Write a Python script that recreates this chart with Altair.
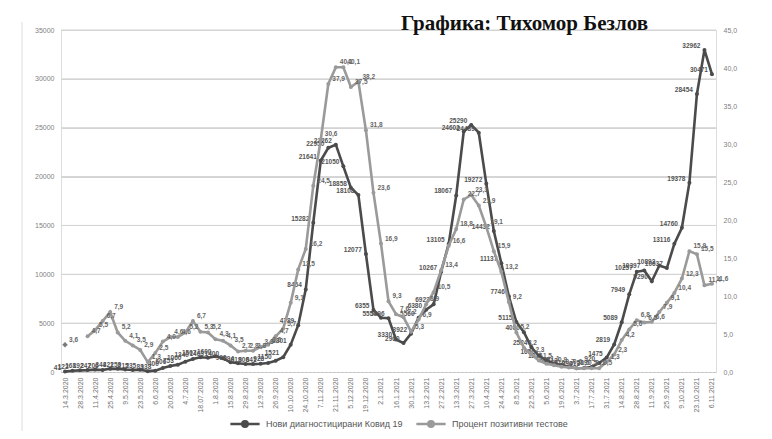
import altair as alt
import pandas as pd

# ---------------- data ----------------
dates = [
    "14.3.2020", "21.3.2020", "28.3.2020", "4.4.2020", "11.4.2020", "18.4.2020", "25.4.2020",
    "2.5.2020", "9.5.2020", "16.5.2020", "23.5.2020", "30.5.2020", "6.6.2020", "13.6.2020",
    "20.6.2020", "27.6.2020", "4.7.2020", "11.7.2020", "18.07.2020", "25.7.2020", "1.8.2020",
    "8.8.2020", "15.8.2020", "22.8.2020", "29.8.2020", "5.9.2020", "12.9.2020", "19.9.2020",
    "26.9.2020", "3.10.2020", "10.10.2020", "17.10.2020", "24.10.2020", "31.10.2020", "7.11.2020",
    "14.11.2020", "21.11.2020", "28.11.2020", "5.12.2020", "12.12.2020", "19.12.2020", "26.12.2020",
    "2.1.2021", "9.1.2021", "16.1.2021", "23.1.2021", "30.1.2021", "6.2.2021", "13.2.2021",
    "20.2.2021", "27.2.2021", "6.3.2021", "13.3.2021", "20.3.2021", "27.3.2021", "3.4.2021",
    "10.4.2021", "17.4.2021", "24.4.2021", "1.5.2021", "8.5.2021", "15.5.2021", "22.5.2021",
    "29.5.2021", "5.6.2021", "12.6.2021", "19.6.2021", "26.6.2021", "3.7.2021", "10.7.2021",
    "17.7.2021", "24.7.2021", "31.7.2021", "7.8.2021", "14.8.2021", "21.8.2021", "28.8.2021",
    "4.9.2021", "11.9.2021", "18.9.2021", "25.9.2021", "2.10.2021", "9.10.2021", "16.10.2021",
    "23.10.2021", "30.10.2021", "6.11.2021",
]

cases = [
    41, 122, 168, 192, 247, 206, 344, 321, 258, 215, 235, 89, 138, 400,
    606, 753, 1060, 1340, 1507, 1463, 1600, 1400, 990, 894, 819, 806, 841, 928,
    1150, 1521, 2801, 4789, 8454, 15282, 21641, 22950, 23262, 21050, 18858, 18108, 12077, 6355,
    5550, 5496, 3330, 2960, 3922, 5560, 6380, 6923, 10267, 13105, 18067, 24602, 25290, 24489,
    19272, 14432, 11137, 7746, 5115, 4080, 2524, 1656, 1205, 868, 713, 510, 390, 413,
    519, 920, 1475, 2819, 5089, 7949, 10257, 10397, 9290, 10893, 10637, 13116, 14760, 19378,
    28454, 32962, 30471,
]

pct = [
    3.6, None, None, 4.7, 5.5, 6.7, 7.9, 5.2, 4.1, 3.5, 2.9, 1.3, 2.5, 4.0,
    4.6, 4.6, 5.2, 6.7, 5.3, 5.2, 4.3, 4.1, 3.5, 2.7, 2.8, 2.8, 3.3, 3.6,
    4.7, 5.7, 9.1, 13.5, 16.2, 24.5, 30.6, 37.9, 40.1, 40.1, 37.5, 38.2, 31.8, 23.6,
    16.9, 9.3, 7.6, 7.2, 5.3, 6.9, 8.9, 10.5, 13.4, 16.6, 18.8, 22.7, 23.3, 21.9,
    19.1, 15.9, 13.2, 9.2, 5.2, 3.2, 2.3, 1.5, 1.1, 0.9, 0.7, 0.6, 0.5, 0.5,
    0.5, 0.5, 1.3, 2.3, 4.2, 5.6, 6.8, 6.5, 6.6, 7.9, 9.1, 10.4, 12.3, 15.9,
    15.5, 11.4, 11.6,
]

left_ticks = [0, 5000, 10000, 15000, 20000, 25000, 30000, 35000]
grid_ticks = [5000, 10000, 15000, 20000, 25000, 30000, 35000]
right_ticks = [0, 5, 10, 15, 20, 25, 30, 35, 40, 45]

SER_CASES = "Нови диагностицирани Ковид 19"
SER_PCT = "Процент позитивни тестове"
TITLE = "Графика: Тихомор Безлов"

DARK = "#4b4b4b"
LIGHT = "#9a9a9a"

df_c = pd.DataFrame({"date": dates, "value": cases, "series": SER_CASES, "i": range(len(dates))})
df_c["label"] = df_c["value"].map(lambda v: str(int(v)))

df_p = pd.DataFrame({"date": dates, "value": pct, "series": SER_PCT, "i": range(len(dates))})
df_p = df_p.dropna(subset=["value"])
df_p["label"] = df_p["value"].map(lambda v: f"{v:.1f}".replace(".", ","))
df_p_line = df_p[df_p["i"] >= 3]
df_p_first = df_p[df_p["i"] == 0]

df_grid = pd.DataFrame({"value": grid_ticks})

# ---------------- encodings ----------------
x_enc = alt.X(
    "date:O",
    sort=dates,
    scale=alt.Scale(type="point", padding=0.535),
    axis=alt.Axis(
        values=dates[::2],
        labelAngle=270,
        labelFontSize=7,
        labelColor="#707070",
        labelFont="Liberation Sans",
        labelPadding=5,
        labelOverlap=False,
        ticks=False,
        domain=True,
        domainColor="#c0c0c0",
        domainDash=[2, 2],
        grid=False,
        title=None,
    ),
)

color_enc = alt.Color(
    "series:N",
    scale=alt.Scale(domain=[SER_CASES, SER_PCT], range=[DARK, LIGHT]),
    legend=alt.Legend(
        title=None,
        orient="none",
        direction="horizontal",
        legendX=173,
        legendY=383,
        gridAlign="none",
        symbolType="M-1.5,0H1.5M0.28,0A0.28,0.28 0 1 1 -0.28,0A0.28,0.28 0 1 1 0.28,0",
        symbolSize=380,
        symbolStrokeWidth=2.5,
        labelOffset=10,
        labelFontSize=9,
        labelColor="#555555",
        labelFont="Liberation Sans",
        columnPadding=8,
    ),
)

y_left_axis = alt.Axis(
    values=left_ticks,
    format="d",
    grid=True,
    gridColor="#d4d4d4",
    domain=False,
    ticks=False,
    labelOverlap=False,
    labelFontSize=7,
    labelColor="#808080",
    labelFont="Liberation Sans",
    labelPadding=7,
    title=None,
)
y_left_scale = alt.Scale(domain=[0, 35000], nice=False)
y_left = alt.Y("value:Q", scale=y_left_scale, axis=y_left_axis)

y_right = alt.Y(
    "value:Q",
    scale=alt.Scale(domain=[0, 45], nice=False),
    axis=alt.Axis(
        orient="right",
        values=right_ticks,
        labelExpr="replace(format(datum.value, '.1f'), '.', ',')",
        grid=False,
        domain=False,
        ticks=False,
        labelOverlap=False,
        labelFontSize=7,
        labelColor="#808080",
        labelFont="Liberation Sans",
        labelPadding=7,
        title=None,
    ),
)

# ---------------- layers ----------------
frame_line = alt.Chart(df_c.head(1)).mark_rule(
    stroke="#dedede", strokeWidth=1
).encode(x=alt.value(-39), y=alt.value(-8), y2=alt.value(412))

grid = alt.Chart(df_grid).mark_rule(stroke="#d4d4d4", strokeWidth=1).encode(
    y=y_left, x=alt.value(0), x2=alt.value(655)
)

cases_line = alt.Chart(df_c).mark_line(
    strokeWidth=2.6,
    point=alt.OverlayMarkDef(filled=True, size=16, color=DARK),
).encode(x=x_enc, y=y_left, color=color_enc)

cases_text = alt.Chart(df_c).mark_text(
    align="right", dx=-4, dy=-4, fontSize=6.5, fontWeight="bold",
    color="#555555", font="Liberation Sans",
).encode(x=x_enc, y=y_left, text="label:N")

left = alt.layer(grid, cases_line, cases_text)

pct_line = alt.Chart(df_p_line).mark_line(
    strokeWidth=2.6,
    point=alt.OverlayMarkDef(filled=True, size=16, color=LIGHT),
).encode(x=x_enc, y=y_right, color=color_enc)

pct_first = alt.Chart(df_p_first).mark_point(
    shape="diamond", filled=True, size=30, color="#7a7a7a", opacity=1
).encode(x=x_enc, y=y_right)

pct_text = alt.Chart(df_p).mark_text(
    align="left", dx=4, dy=-5, fontSize=6.5, fontWeight="bold",
    color="#666666", font="Liberation Sans",
).encode(x=x_enc, y=y_right, text="label:N")

right = alt.layer(pct_line, pct_first, pct_text)

chart = (
    alt.layer(frame_line, left, right)
    .resolve_scale(y="independent")
    .properties(
        width=655,
        height=342,
        padding={"left": 53, "top": 22, "right": 48, "bottom": 59},
        autosize=alt.AutoSizeParams(type="none"),
        title=alt.TitleParams(
            TITLE,
            anchor="end",
            frame="group",
            dx=-68,
            dy=16,
            offset=4,
            font="Liberation Serif",
            fontSize=21,
            fontWeight="bold",
            color="#111111",
        ),
    )
    .configure_view(strokeWidth=0)
    .configure_axisY(domain=False, ticks=False)
    .configure(background="white")
)

chart.save("out.html", embed_options={"renderer": "svg", "actions": False})
